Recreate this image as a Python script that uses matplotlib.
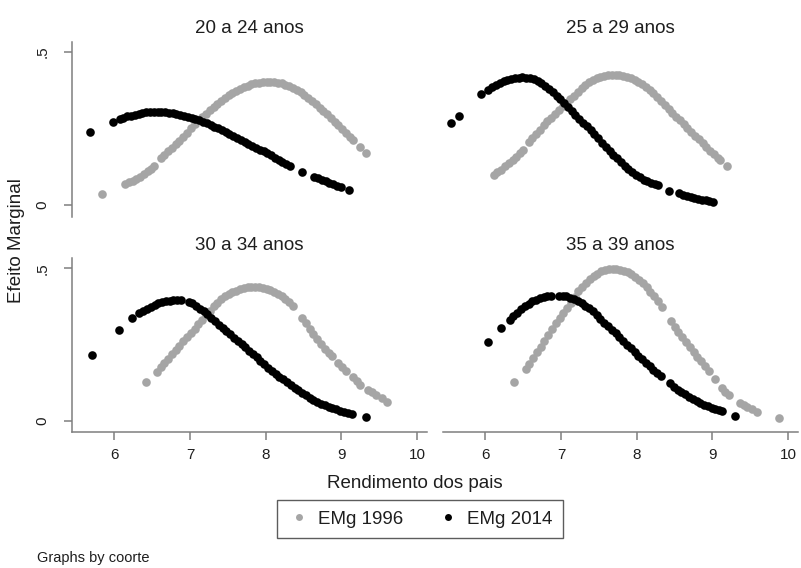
import matplotlib
matplotlib.use("Agg")
import matplotlib.pyplot as plt
from matplotlib.lines import Line2D

plt.rcParams['font.family'] = ['Liberation Sans', 'DejaVu Sans']

# efeito marginal por coorte
titles = ['20 a 24 anos', '25 a 29 anos', '30 a 34 anos', '35 a 39 anos']

# 20 a 24 anos
x96_2024 = [5.83, 6.14, 6.19, 6.24, 6.29, 6.34, 6.39, 6.44, 6.48, 6.52, 6.61, 6.66, 6.71, 6.76,
            6.81, 6.86, 6.91, 6.96, 7.01, 7.06, 7.11, 7.16, 7.21, 7.26, 7.31, 7.36, 7.41, 7.46,
            7.51, 7.56, 7.61, 7.66, 7.71, 7.76, 7.81, 7.86, 7.91, 7.96, 8.01, 8.06, 8.11, 8.16,
            8.21, 8.26, 8.31, 8.36, 8.41, 8.46, 8.51, 8.56, 8.61, 8.66, 8.71, 8.76, 8.81, 8.86,
            8.91, 8.96, 9.01, 9.06, 9.11, 9.15, 9.24, 9.33]
y96_2024 = [0.036, 0.068, 0.074, 0.080, 0.086, 0.092, 0.101, 0.110, 0.118, 0.127, 0.152, 0.164,
            0.175, 0.187, 0.198, 0.210, 0.222, 0.236, 0.250, 0.263, 0.276, 0.287, 0.298, 0.309,
            0.320, 0.331, 0.341, 0.350, 0.359, 0.366, 0.373, 0.379, 0.385, 0.390, 0.394, 0.397,
            0.399, 0.401, 0.402, 0.402, 0.401, 0.399, 0.397, 0.393, 0.388, 0.382, 0.376, 0.368,
            0.360, 0.350, 0.340, 0.329, 0.318, 0.307, 0.296, 0.284, 0.272, 0.260, 0.248, 0.235,
            0.222, 0.212, 0.190, 0.169]
x14_2024 = [5.68, 5.98, 6.07, 6.12, 6.17, 6.22, 6.27, 6.32, 6.37, 6.42, 6.47, 6.52, 6.57, 6.62,
            6.67, 6.72, 6.77, 6.82, 6.87, 6.92, 6.97, 7.02, 7.07, 7.12, 7.17, 7.22, 7.27, 7.32,
            7.37, 7.42, 7.47, 7.52, 7.57, 7.62, 7.67, 7.72, 7.77, 7.82, 7.87, 7.92, 7.97, 8.02,
            8.07, 8.12, 8.17, 8.22, 8.27, 8.32, 8.48, 8.64, 8.69, 8.74, 8.79, 8.84, 8.89, 8.94,
            8.99, 9.10]
y14_2024 = [0.239, 0.271, 0.280, 0.285, 0.289, 0.292, 0.295, 0.298, 0.300, 0.302, 0.303, 0.304,
            0.304, 0.304, 0.303, 0.301, 0.299, 0.297, 0.294, 0.291, 0.287, 0.284, 0.280, 0.276,
            0.272, 0.267, 0.262, 0.256, 0.250, 0.245, 0.239, 0.233, 0.226, 0.220, 0.213, 0.207,
            0.200, 0.194, 0.187, 0.181, 0.175, 0.169, 0.162, 0.155, 0.148, 0.142, 0.135, 0.128,
            0.107, 0.092, 0.088, 0.083, 0.078, 0.073, 0.068, 0.063, 0.058, 0.049]

# 25 a 29 anos
x96_2529 = [6.11, 6.16, 6.21, 6.26, 6.31, 6.36, 6.41, 6.46, 6.50, 6.57, 6.62, 6.67, 6.72, 6.77,
            6.82, 6.87, 6.92, 6.97, 7.02, 7.07, 7.12, 7.17, 7.22, 7.27, 7.32, 7.37, 7.42, 7.47,
            7.52, 7.57, 7.62, 7.67, 7.72, 7.77, 7.82, 7.87, 7.92, 7.97, 8.02, 8.07, 8.12, 8.17,
            8.22, 8.27, 8.32, 8.37, 8.42, 8.47, 8.52, 8.57, 8.62, 8.67, 8.72, 8.77, 8.82, 8.87,
            8.92, 8.97, 9.02, 9.07, 9.10, 9.19]
y96_2529 = [0.098, 0.107, 0.116, 0.126, 0.136, 0.147, 0.158, 0.169, 0.179, 0.206, 0.219, 0.232,
            0.246, 0.260, 0.273, 0.285, 0.298, 0.310, 0.322, 0.334, 0.345, 0.356, 0.369, 0.383,
            0.393, 0.402, 0.409, 0.414, 0.418, 0.421, 0.423, 0.424, 0.424, 0.423, 0.421, 0.418,
            0.414, 0.409, 0.403, 0.395, 0.386, 0.376, 0.364, 0.351, 0.338, 0.325, 0.312, 0.300,
            0.288, 0.276, 0.263, 0.250, 0.238, 0.226, 0.214, 0.202, 0.190, 0.178, 0.166, 0.154,
            0.147, 0.127]
x14_2529 = [5.54, 5.65, 5.94, 6.04, 6.09, 6.14, 6.19, 6.24, 6.29, 6.34, 6.39, 6.44, 6.49, 6.54,
            6.59, 6.64, 6.69, 6.74, 6.79, 6.84, 6.89, 6.94, 6.99, 7.04, 7.09, 7.14, 7.19, 7.24,
            7.29, 7.34, 7.39, 7.44, 7.49, 7.54, 7.59, 7.64, 7.69, 7.74, 7.79, 7.84, 7.89, 7.94,
            7.99, 8.04, 8.09, 8.14, 8.19, 8.24, 8.28, 8.43, 8.56, 8.61, 8.66, 8.71, 8.76, 8.81,
            8.86, 8.91, 8.96, 9.01]
y14_2529 = [0.268, 0.290, 0.362, 0.377, 0.385, 0.393, 0.399, 0.405, 0.409, 0.412, 0.414, 0.416,
            0.417, 0.416, 0.414, 0.410, 0.404, 0.397, 0.388, 0.378, 0.368, 0.357, 0.345, 0.332,
            0.319, 0.306, 0.293, 0.281, 0.269, 0.257, 0.245, 0.232, 0.218, 0.204, 0.190, 0.177,
            0.164, 0.152, 0.140, 0.128, 0.118, 0.108, 0.099, 0.090, 0.083, 0.077, 0.072, 0.068,
            0.064, 0.047, 0.038, 0.034, 0.031, 0.027, 0.024, 0.021, 0.018, 0.015, 0.013, 0.011]

# 30 a 34 anos
x96_3034 = [6.42, 6.56, 6.61, 6.66, 6.71, 6.76, 6.81, 6.86, 6.91, 6.96, 7.01, 7.06, 7.11, 7.16,
            7.21, 7.26, 7.31, 7.36, 7.41, 7.46, 7.51, 7.56, 7.61, 7.66, 7.71, 7.76, 7.81, 7.86,
            7.91, 7.96, 8.01, 8.06, 8.11, 8.16, 8.21, 8.26, 8.31, 8.36, 8.48, 8.53, 8.58, 8.63,
            8.68, 8.73, 8.78, 8.83, 8.88, 8.96, 9.01, 9.06, 9.15, 9.20, 9.25, 9.35, 9.40, 9.46,
            9.53, 9.60]
y96_3034 = [0.127, 0.161, 0.176, 0.190, 0.204, 0.218, 0.233, 0.247, 0.261, 0.275, 0.289, 0.303,
            0.317, 0.331, 0.346, 0.361, 0.376, 0.388, 0.399, 0.408, 0.415, 0.421, 0.427, 0.431,
            0.435, 0.438, 0.440, 0.440, 0.439, 0.437, 0.434, 0.430, 0.424, 0.417, 0.409, 0.400,
            0.389, 0.377, 0.338, 0.321, 0.303, 0.285, 0.268, 0.252, 0.237, 0.224, 0.212, 0.190,
            0.178, 0.165, 0.143, 0.131, 0.119, 0.102, 0.094, 0.085, 0.075, 0.063]
x14_3034 = [5.70, 6.06, 6.23, 6.33, 6.38, 6.43, 6.48, 6.53, 6.58, 6.63, 6.68, 6.73, 6.78, 6.83,
            6.88, 6.98, 7.03, 7.08, 7.13, 7.18, 7.23, 7.28, 7.33, 7.38, 7.43, 7.48, 7.53, 7.58,
            7.63, 7.68, 7.73, 7.78, 7.83, 7.88, 7.93, 7.98, 8.03, 8.08, 8.13, 8.18, 8.23, 8.28,
            8.33, 8.38, 8.43, 8.48, 8.53, 8.58, 8.63, 8.68, 8.73, 8.78, 8.83, 8.88, 8.93, 8.98,
            9.03, 9.08, 9.14, 9.33]
y14_3034 = [0.216, 0.298, 0.338, 0.353, 0.360, 0.367, 0.374, 0.380, 0.385, 0.389, 0.392, 0.394,
            0.395, 0.396, 0.396, 0.391, 0.385, 0.377, 0.368, 0.359, 0.350, 0.339, 0.328, 0.316,
            0.305, 0.294, 0.284, 0.273, 0.262, 0.251, 0.241, 0.230, 0.220, 0.209, 0.198, 0.186,
            0.174, 0.164, 0.155, 0.145, 0.136, 0.127, 0.118, 0.109, 0.100, 0.092, 0.084, 0.076,
            0.069, 0.063, 0.057, 0.052, 0.047, 0.042, 0.038, 0.034, 0.030, 0.027, 0.024, 0.014]

# 35 a 39 anos
x96_3539 = [6.38, 6.53, 6.58, 6.63, 6.68, 6.73, 6.78, 6.83, 6.88, 6.93, 6.98, 7.03, 7.08, 7.13,
            7.18, 7.23, 7.28, 7.33, 7.38, 7.43, 7.48, 7.53, 7.58, 7.63, 7.68, 7.73, 7.78, 7.83,
            7.88, 7.93, 7.98, 8.03, 8.08, 8.13, 8.18, 8.23, 8.28, 8.33, 8.45, 8.50, 8.55, 8.60,
            8.65, 8.70, 8.75, 8.80, 8.85, 8.90, 8.95, 9.03, 9.12, 9.17, 9.22, 9.36, 9.41, 9.46,
            9.52, 9.59, 9.88]
y96_3539 = [0.129, 0.170, 0.188, 0.206, 0.225, 0.244, 0.263, 0.282, 0.301, 0.320, 0.338, 0.355,
            0.371, 0.388, 0.407, 0.425, 0.440, 0.452, 0.464, 0.474, 0.483, 0.490, 0.494, 0.497,
            0.498, 0.498, 0.496, 0.492, 0.487, 0.480, 0.472, 0.462, 0.451, 0.438, 0.424, 0.410,
            0.392, 0.372, 0.327, 0.309, 0.292, 0.275, 0.258, 0.242, 0.226, 0.210, 0.195, 0.180,
            0.165, 0.138, 0.108, 0.095, 0.085, 0.060, 0.052, 0.045, 0.038, 0.030, 0.011]
x14_3539 = [6.03, 6.20, 6.32, 6.37, 6.42, 6.47, 6.52, 6.57, 6.62, 6.67, 6.72, 6.77, 6.82, 6.87,
            6.97, 7.02, 7.07, 7.12, 7.17, 7.22, 7.27, 7.32, 7.37, 7.42, 7.47, 7.52, 7.57, 7.62,
            7.67, 7.72, 7.77, 7.82, 7.87, 7.92, 7.97, 8.02, 8.07, 8.12, 8.17, 8.22, 8.27, 8.32,
            8.44, 8.49, 8.54, 8.59, 8.64, 8.69, 8.74, 8.79, 8.84, 8.89, 8.94, 8.99, 9.04, 9.09,
            9.13, 9.30]
y14_3539 = [0.260, 0.304, 0.331, 0.343, 0.355, 0.366, 0.376, 0.384, 0.392, 0.397, 0.402, 0.405,
            0.408, 0.410, 0.410, 0.410, 0.408, 0.404, 0.399, 0.394, 0.386, 0.378, 0.369, 0.359,
            0.347, 0.334, 0.322, 0.310, 0.298, 0.287, 0.275, 0.262, 0.250, 0.238, 0.226, 0.214,
            0.202, 0.190, 0.179, 0.168, 0.157, 0.147, 0.123, 0.112, 0.102, 0.095, 0.088, 0.080,
            0.073, 0.066, 0.060, 0.054, 0.048, 0.043, 0.039, 0.036, 0.033, 0.017]

xticks = [6, 7, 8, 9, 10]
yticks = [0, 0.5]
yticklabels = ['0', '.5']

emg96 = [(x96_2024, y96_2024), (x96_2529, y96_2529), (x96_3034, y96_3034), (x96_3539, y96_3539)]
emg14 = [(x14_2024, y14_2024), (x14_2529, y14_2529), (x14_3034, y14_3034), (x14_3539, y14_3539)]

gray = '#a5a5a5'
axcol = '#7f7f7f'
txt = '#1e1e1e'

W, H = 801, 568
fig = plt.figure(figsize=(W / 100, H / 100), dpi=100)

# panel boxes in pixels: left, top, width, height
boxes = [(72, 41.7, 355, 175), (443, 41.7, 355, 175),
         (72, 258.3, 355, 173.4), (443, 258.3, 355, 173.4)]
ylims = [(-0.038, 0.533), (-0.038, 0.533), (-0.035, 0.533), (-0.035, 0.533)]

for i in range(4):
    l, t, w, h = boxes[i]
    ax = fig.add_axes([l / W, 1 - (t + h) / H, w / W, h / H])
    xa, ya = emg96[i]
    xb, yb = emg14[i]
    ax.plot(xa, ya, 'o', color=gray, ms=6.2, mew=0, zorder=2)
    ax.plot(xb, yb, 'o', color='black', ms=6.2, mew=0, zorder=3)
    ax.set_xlim(5.44, 10.13)
    ax.set_ylim(*ylims[i])
    ax.set_title(titles[i], fontsize=13.5, color=txt, pad=6)
    for s in ax.spines.values():
        s.set_visible(False)
        s.set_color(axcol)
        s.set_linewidth(1.1)
    ax.tick_params(colors=axcol, labelcolor=txt, width=1.1, length=6)
    left_col = i in (0, 2)
    bottom_row = i in (2, 3)
    if left_col:
        ax.spines['left'].set_visible(True)
        ax.set_yticks(yticks)
        ax.set_yticklabels(yticklabels, rotation=90, va='center', fontsize=11)
        ax.tick_params(axis='y', pad=10)
    else:
        ax.set_yticks([])
    if bottom_row:
        ax.spines['bottom'].set_visible(True)
        ax.set_xticks(xticks)
        ax.set_xticklabels([str(v) for v in xticks], fontsize=11)
        ax.tick_params(axis='x', pad=6)
    else:
        ax.set_xticks([])

fig.text(17 / W, 1 - 241 / H, 'Efeito Marginal', rotation=90, ha='center', va='center',
         fontsize=13.5, color=txt)
fig.text(415 / W, 1 - 483 / H, 'Rendimento dos pais', ha='center', va='center',
         fontsize=13.5, color=txt)

handles = [Line2D([], [], ls='none', marker='o', color=gray, ms=5, mew=0),
           Line2D([], [], ls='none', marker='o', color='black', ms=5, mew=0)]
leg = fig.legend(handles, ['EMg 1996', 'EMg 2014'], loc='center',
                 bbox_to_anchor=(420 / W, 1 - 519 / H), ncol=2, fontsize=13.5,
                 frameon=True, fancybox=False, edgecolor='#333333', handletextpad=0.4,
                 columnspacing=1.8, handlelength=1.2, borderpad=0.55, borderaxespad=0)
leg.get_frame().set_linewidth(1.0)
for t in leg.get_texts():
    t.set_color(txt)

fig.text(37 / W, 1 - 558 / H, 'Graphs by coorte', ha='left', va='center',
         fontsize=10.5, color=txt)

fig.savefig('out.png', dpi=100, facecolor='white')
